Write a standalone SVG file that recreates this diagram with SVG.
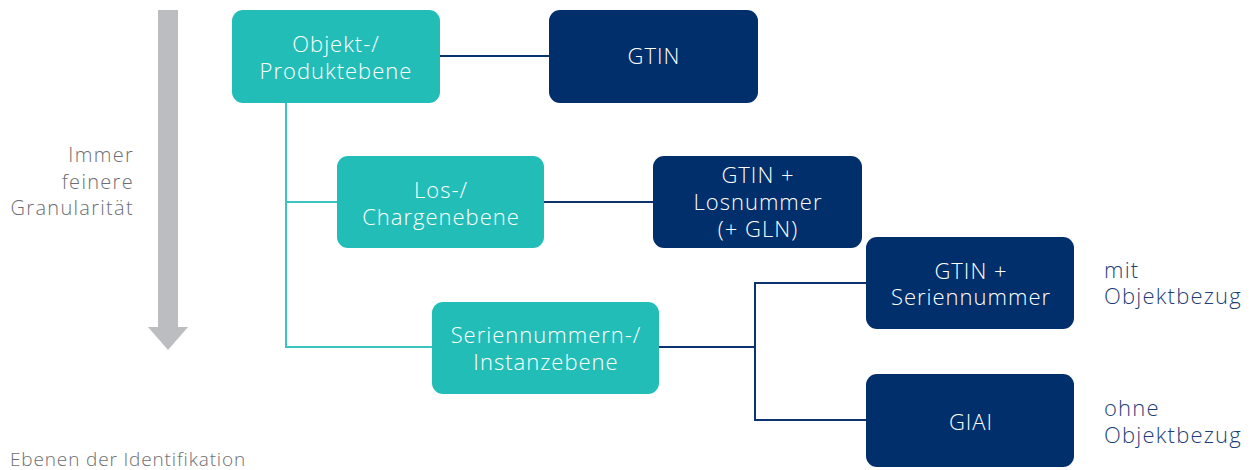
<svg xmlns="http://www.w3.org/2000/svg" width="1255" height="470" viewBox="0 0 1255 470">
  <style>
    text { font-family: "Open Sans", "Liberation Sans", sans-serif; font-weight: 300; }
    .lvl { fill: #23BDB8; }
    .id { fill: #002F6C; }
    .box-label { fill: #FFFFFF; font-size: 22px; letter-spacing: 1px; text-anchor: middle; }
    .side { fill: #6D6E71; font-size: 20px; letter-spacing: 1.3px; text-anchor: end; }
    .note { fill: #1E3F78; font-size: 22px; letter-spacing: 1.2px; }
    .caption { fill: #6D6E71; font-size: 19px; letter-spacing: 0.85px; }
    .link-lvl { fill: none; stroke: #3CC4C0; stroke-width: 2; }
    .link-id { fill: none; stroke: #0A3370; stroke-width: 2; }
  </style>

  <!-- granularity arrow -->
  <g id="granularity">
    <rect x="158" y="10" width="20" height="318" fill="#BCBDC0"/>
    <polygon points="148,327 188,327 168,350" fill="#BCBDC0"/>
    <text class="side" x="134" y="162">Immer</text>
    <text class="side" x="134" y="189">feinere</text>
    <text class="side" x="134" y="215">Granularität</text>
  </g>

  <!-- connectors -->
  <g id="connectors">
    <polyline class="link-lvl" points="286,102 286,347 432,347"/>
    <line class="link-lvl" x1="286" y1="202" x2="337" y2="202"/>
    <line class="link-id" x1="440" y1="56" x2="549" y2="56"/>
    <line class="link-id" x1="544" y1="202" x2="653" y2="202"/>
    <line class="link-id" x1="659" y1="347" x2="755" y2="347"/>
    <polyline class="link-id" points="866,283 755,283 755,420 866,420"/>
  </g>

  <g id="objekt-ebene">
    <rect class="lvl" x="232" y="10" width="208" height="93" rx="11"/>
    <text class="box-label" x="336" y="52">Objekt-/</text>
    <text class="box-label" x="336" y="79">Produktebene</text>
  </g>

  <g id="los-ebene">
    <rect class="lvl" x="337" y="156" width="207" height="92" rx="11"/>
    <text class="box-label" x="441" y="198">Los-/</text>
    <text class="box-label" x="441" y="225">Chargenebene</text>
  </g>

  <g id="instanz-ebene">
    <rect class="lvl" x="432" y="302" width="227" height="92" rx="11"/>
    <text class="box-label" x="546" y="343">Seriennummern-/</text>
    <text class="box-label" x="546" y="370">Instanzebene</text>
  </g>

  <g id="gtin">
    <rect class="id" x="549" y="10" width="209" height="93" rx="11"/>
    <text class="box-label" x="654" y="64">GTIN</text>
  </g>

  <g id="gtin-los">
    <rect class="id" x="653" y="156" width="209" height="92" rx="11"/>
    <text class="box-label" x="758" y="183">GTIN +</text>
    <text class="box-label" x="758" y="210">Losnummer</text>
    <text class="box-label" x="758" y="237">(+ GLN)</text>
  </g>

  <g id="gtin-serie">
    <rect class="id" x="866" y="237" width="208" height="92" rx="11"/>
    <text class="box-label" x="971" y="279">GTIN +</text>
    <text class="box-label" x="971" y="305">Seriennummer</text>
  </g>

  <g id="giai">
    <rect class="id" x="866" y="374" width="208" height="93" rx="11"/>
    <text class="box-label" x="971" y="430">GIAI</text>
  </g>

  <g id="bezug-notes">
    <text class="note" x="1104" y="278">mit</text>
    <text class="note" x="1104" y="304">Objektbezug</text>
    <text class="note" x="1104" y="416">ohne</text>
    <text class="note" x="1104" y="443">Objektbezug</text>
  </g>

  <text class="caption" x="10" y="466">Ebenen der Identifikation</text>
</svg>
